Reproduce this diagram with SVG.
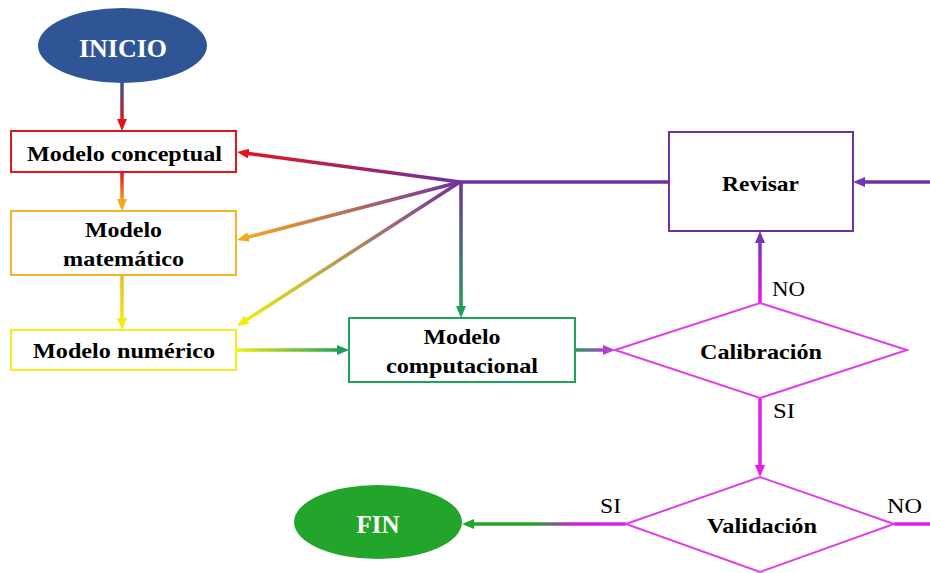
<svg xmlns="http://www.w3.org/2000/svg" width="930" height="573" viewBox="0 0 930 573">
<style>
.t{font-family:"Liberation Serif","Times New Roman",serif;font-weight:bold;font-size:22px;fill:#000;text-anchor:middle}
.w{fill:#fff;font-size:25px}
.l{font-family:"Liberation Serif","Times New Roman",serif;font-size:22px;fill:#000}
.c{fill:none;stroke-width:3.5}
.box{fill:#fff;stroke-width:2}
.dia{fill:#fff;stroke:#E03FE6;stroke-width:2}
</style>
<defs>
<marker id="aRed" markerUnits="userSpaceOnUse" markerWidth="12" markerHeight="10" refX="4" refY="5" orient="auto"><path d="M0,0 L12,5 L0,10 z" fill="#E3141C"/></marker>
<marker id="aOrg" markerUnits="userSpaceOnUse" markerWidth="12" markerHeight="10" refX="4" refY="5" orient="auto"><path d="M0,0 L12,5 L0,10 z" fill="#F4A81C"/></marker>
<marker id="aYel" markerUnits="userSpaceOnUse" markerWidth="12" markerHeight="10" refX="4" refY="5" orient="auto"><path d="M0,0 L12,5 L0,10 z" fill="#F2EC10"/></marker>
<marker id="aGrn" markerUnits="userSpaceOnUse" markerWidth="12" markerHeight="10" refX="4" refY="5" orient="auto"><path d="M0,0 L12,5 L0,10 z" fill="#1E9E5A"/></marker>
<marker id="aPur" markerUnits="userSpaceOnUse" markerWidth="12" markerHeight="10" refX="4" refY="5" orient="auto"><path d="M0,0 L12,5 L0,10 z" fill="#7A34B0"/></marker>
<marker id="aMag" markerUnits="userSpaceOnUse" markerWidth="12" markerHeight="10" refX="4" refY="5" orient="auto"><path d="M0,0 L12,5 L0,10 z" fill="#E21EE8"/></marker>
<marker id="aMp" markerUnits="userSpaceOnUse" markerWidth="12" markerHeight="10" refX="4" refY="5" orient="auto"><path d="M0,0 L12,5 L0,10 z" fill="#B43ED6"/></marker>
<marker id="aFin" markerUnits="userSpaceOnUse" markerWidth="12" markerHeight="10" refX="4" refY="5" orient="auto"><path d="M0,0 L12,5 L0,10 z" fill="#22A52A"/></marker>
<linearGradient id="g1" gradientUnits="userSpaceOnUse" x1="122" y1="83" x2="122" y2="123"><stop offset="0" stop-color="#2F5597"/><stop offset="1" stop-color="#E3141C"/></linearGradient>
<linearGradient id="g2" gradientUnits="userSpaceOnUse" x1="122" y1="172" x2="122" y2="203"><stop offset="0" stop-color="#E3141C"/><stop offset="1" stop-color="#F4A81C"/></linearGradient>
<linearGradient id="g3" gradientUnits="userSpaceOnUse" x1="122" y1="275" x2="122" y2="322"><stop offset="0" stop-color="#F4B22A"/><stop offset="1" stop-color="#F2EC10"/></linearGradient>
<linearGradient id="h1" gradientUnits="userSpaceOnUse" x1="460" y1="182" x2="245" y2="153"><stop offset="0" stop-color="#7030A0"/><stop offset="1" stop-color="#E3141C"/></linearGradient>
<linearGradient id="h2" gradientUnits="userSpaceOnUse" x1="460" y1="182" x2="245" y2="238"><stop offset="0" stop-color="#7030A0"/><stop offset="1" stop-color="#F4A81C"/></linearGradient>
<linearGradient id="h3" gradientUnits="userSpaceOnUse" x1="460" y1="182" x2="244" y2="322"><stop offset="0" stop-color="#7030A0"/><stop offset="1" stop-color="#F2EC10"/></linearGradient>
<linearGradient id="h4" gradientUnits="userSpaceOnUse" x1="461" y1="182" x2="461" y2="310"><stop offset="0" stop-color="#7030A0"/><stop offset="1" stop-color="#1E9E5A"/></linearGradient>
<linearGradient id="g6" gradientUnits="userSpaceOnUse" x1="237" y1="350" x2="341" y2="350"><stop offset="0" stop-color="#F2EC10"/><stop offset="1" stop-color="#1E9E5A"/></linearGradient>
<linearGradient id="g7" gradientUnits="userSpaceOnUse" x1="575" y1="350" x2="607" y2="350"><stop offset="0" stop-color="#1E9E5A"/><stop offset="1" stop-color="#B43ED6"/></linearGradient>
<linearGradient id="g8" gradientUnits="userSpaceOnUse" x1="760" y1="303" x2="760" y2="239"><stop offset="0" stop-color="#F010F0"/><stop offset="1" stop-color="#7A34B0"/></linearGradient>
<linearGradient id="g11" gradientUnits="userSpaceOnUse" x1="626" y1="524" x2="470" y2="524"><stop offset="0" stop-color="#E21EE8"/><stop offset="0.35" stop-color="#C028C8"/><stop offset="0.6" stop-color="#22A52A"/><stop offset="1" stop-color="#22A52A"/></linearGradient>
</defs>

<g id="connectors">
<path class="c" stroke="url(#g1)" d="M122,83 V123" marker-end="url(#aRed)"/>
<path class="c" stroke="url(#g2)" d="M122,172 V203" marker-end="url(#aOrg)"/>
<path class="c" stroke="url(#g3)" d="M122,275 V322" marker-end="url(#aYel)"/>
<path class="c" stroke="#7030A0" d="M669,182 H460"/>
<path class="c" stroke="url(#h1)" d="M460,182 L244.9,153.1" marker-end="url(#aRed)"/>
<path class="c" stroke="url(#h2)" d="M460,182 L244.7,238" marker-end="url(#aOrg)"/>
<path class="c" stroke="url(#h3)" d="M460,182 L243.7,321.7" marker-end="url(#aYel)"/>
<path class="c" stroke="url(#h4)" d="M461,182 V310" marker-end="url(#aGrn)"/>
<path class="c" stroke="url(#g6)" d="M237,350 H341" marker-end="url(#aGrn)"/>
<path class="c" stroke="url(#g7)" d="M575,350 H607" marker-end="url(#aMp)"/>
<path class="c" stroke="url(#g8)" d="M760,303 V239" marker-end="url(#aPur)"/>
<path class="c" stroke="#7030A0" d="M930,182 H861" marker-end="url(#aPur)"/>
<path class="c" stroke="#E21EE8" d="M760,398 V469" marker-end="url(#aMag)"/>
<path class="c" stroke="url(#g11)" d="M626,524 H470" marker-end="url(#aFin)"/>
<path class="c" stroke="#E21EE8" d="M894,524 H930"/>
<text class="l" x="772" y="296" textLength="33" lengthAdjust="spacingAndGlyphs">NO</text>
<text class="l" x="773" y="418" textLength="22" lengthAdjust="spacingAndGlyphs">SI</text>
<text class="l" x="600" y="513" textLength="21" lengthAdjust="spacingAndGlyphs">SI</text>
<text class="l" x="887" y="513" textLength="35" lengthAdjust="spacingAndGlyphs">NO</text>
</g>

<g id="inicio">
<ellipse cx="122.5" cy="45.5" rx="84.5" ry="37.5" fill="#2F5597"/>
<text class="t w" x="123" y="57" textLength="88" lengthAdjust="spacingAndGlyphs">INICIO</text>
</g>
<g id="modelo-conceptual">
<rect class="box" x="11" y="131" width="225" height="41" stroke="#E3141C"/>
<text class="t" x="124.5" y="161" textLength="195" lengthAdjust="spacingAndGlyphs">Modelo conceptual</text>
</g>
<g id="modelo-matematico">
<rect class="box" x="11" y="211" width="225" height="64" stroke="#F5B52A"/>
<text class="t" x="123.5" y="237" textLength="77" lengthAdjust="spacingAndGlyphs">Modelo</text>
<text class="t" x="123.5" y="266" textLength="121" lengthAdjust="spacingAndGlyphs">matemático</text>
</g>
<g id="modelo-numerico">
<rect class="box" x="11" y="330" width="225" height="40" stroke="#F5EE1B"/>
<text class="t" x="124" y="358" textLength="182" lengthAdjust="spacingAndGlyphs">Modelo numérico</text>
</g>
<g id="modelo-computacional">
<rect class="box" x="349" y="318" width="226" height="64" stroke="#1FA55A"/>
<text class="t" x="462" y="344" textLength="77" lengthAdjust="spacingAndGlyphs">Modelo</text>
<text class="t" x="462" y="373" textLength="152" lengthAdjust="spacingAndGlyphs">computacional</text>
</g>
<g id="revisar">
<rect class="box" x="669" y="132" width="184" height="99" stroke="#7030A0"/>
<text class="t" x="760.5" y="191" textLength="77" lengthAdjust="spacingAndGlyphs">Revisar</text>
</g>
<g id="calibracion">
<polygon class="dia" points="615,350 760,303 907,350 760,398"/>
<text class="t" x="761" y="359" textLength="122" lengthAdjust="spacingAndGlyphs">Calibración</text>
</g>
<g id="validacion">
<polygon class="dia" points="626,524 760,477 894,524 760,572"/>
<text class="t" x="762" y="533" textLength="110" lengthAdjust="spacingAndGlyphs">Validación</text>
</g>
<g id="fin">
<ellipse cx="378" cy="522" rx="84" ry="37" fill="#22A52A"/>
<text class="t w" x="378" y="533" textLength="43" lengthAdjust="spacingAndGlyphs">FIN</text>
</g>
</svg>
